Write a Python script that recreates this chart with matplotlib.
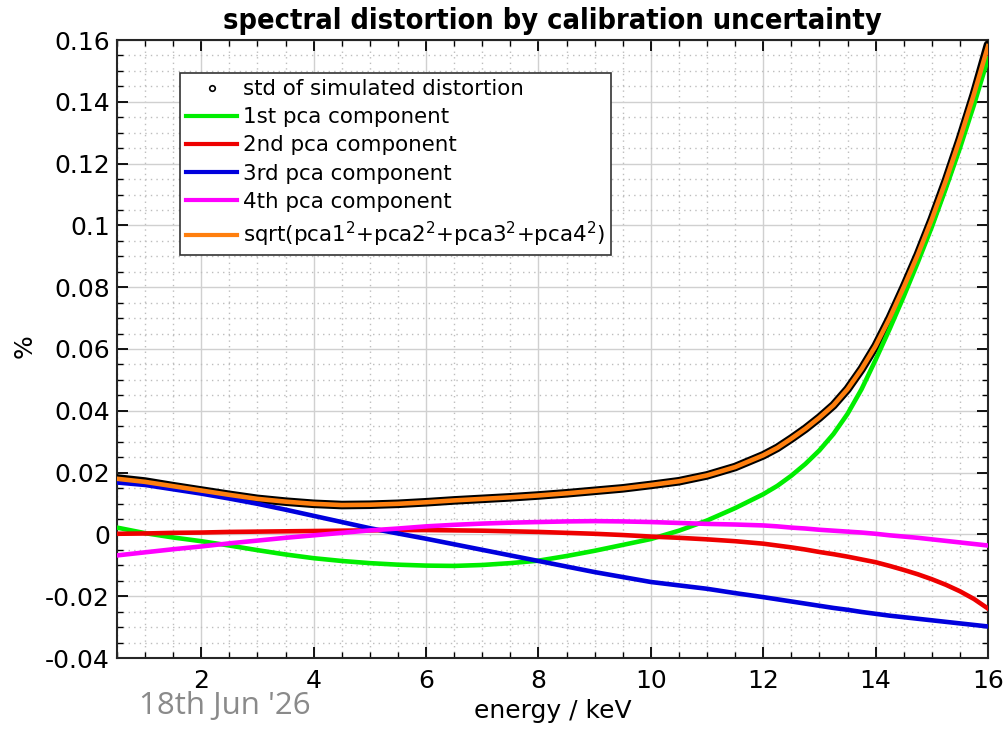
import numpy as np
import matplotlib
matplotlib.use("Agg")
import matplotlib.pyplot as plt
from matplotlib.lines import Line2D
from matplotlib.ticker import MultipleLocator

energy = [0.5, 1.0, 1.5, 2.0, 2.5, 3.0, 3.5, 4.0, 4.5, 5.0, 5.5, 6.0, 6.5, 7.0, 7.5, 8.0,
          8.5, 9.0, 9.5, 10.0, 10.5, 11.0, 11.5, 12.0, 12.25, 12.5, 12.75, 13.0, 13.25, 13.5,
          13.75, 14.0, 14.25, 14.5, 14.75, 15.0, 15.25, 15.5, 15.75, 16.0]

pca1 = [0.0022, 0.0004, -0.0010, -0.0022, -0.0036, -0.0051, -0.0065, -0.0077, -0.0086, -0.0093,
        -0.0098, -0.0101, -0.0102, -0.0099, -0.0093, -0.0085, -0.0070, -0.0053, -0.0034, -0.0015,
        0.0012, 0.0045, 0.0085, 0.0130, 0.0157, 0.0190, 0.0228, 0.0272, 0.0325, 0.0390,
        0.0470, 0.0565, 0.0665, 0.0770, 0.0880, 0.0995, 0.1120, 0.1250, 0.1390, 0.1540]

pca2 = [0.0002, 0.0003, 0.0005, 0.0006, 0.0008, 0.0009, 0.0010, 0.0011, 0.0012, 0.0013,
        0.0014, 0.0014, 0.0013, 0.0012, 0.0010, 0.0008, 0.0005, 0.0002, -0.0002, -0.0007,
        -0.0011, -0.0016, -0.0022, -0.0030, -0.0036, -0.0042, -0.0049, -0.0057, -0.0064, -0.0072,
        -0.0081, -0.0090, -0.0102, -0.0115, -0.0129, -0.0145, -0.0163, -0.0184, -0.0209, -0.0240]

pca3 = [0.0168, 0.0160, 0.0146, 0.0132, 0.0116, 0.0099, 0.0080, 0.0060, 0.0040, 0.0020,
        0.0003, -0.0014, -0.0032, -0.0050, -0.0068, -0.0086, -0.0104, -0.0122, -0.0138, -0.0154,
        -0.0165, -0.0176, -0.0190, -0.0203, -0.0210, -0.0217, -0.0224, -0.0231, -0.0238, -0.0244,
        -0.0251, -0.0257, -0.0263, -0.0268, -0.0273, -0.0278, -0.0283, -0.0288, -0.0293, -0.0298]

pca4 = [-0.0068, -0.0058, -0.0048, -0.0039, -0.0029, -0.0020, -0.0011, -0.0003, 0.0005, 0.0013,
        0.0019, 0.0026, 0.0031, 0.0035, 0.0038, 0.0040, 0.0042, 0.0043, 0.0042, 0.0040,
        0.0037, 0.0034, 0.0032, 0.0029, 0.0026, 0.0022, 0.0019, 0.0015, 0.0012, 0.0009,
        0.0006, 0.0002, -0.0003, -0.0007, -0.0011, -0.0016, -0.0021, -0.0026, -0.0031, -0.0036]

pca_rss = [0.0180, 0.0170, 0.0156, 0.0142, 0.0128, 0.0115, 0.0106, 0.0099, 0.0095, 0.0096,
           0.0099, 0.0104, 0.0110, 0.0115, 0.0120, 0.0126, 0.0133, 0.0141, 0.0149, 0.0160,
           0.0172, 0.0191, 0.0218, 0.0256, 0.0280, 0.0310, 0.0342, 0.0378, 0.0418, 0.0470,
           0.0535, 0.0610, 0.0700, 0.0800, 0.0905, 0.1020, 0.1145, 0.1280, 0.1425, 0.1580]

std_sim = [0.0181, 0.0171, 0.0156, 0.0142, 0.0128, 0.0115, 0.0106, 0.0099, 0.0095, 0.0096,
           0.0099, 0.0104, 0.0110, 0.0115, 0.0120, 0.0126, 0.0133, 0.0141, 0.0149, 0.0160,
           0.0172, 0.0191, 0.0218, 0.0256, 0.0280, 0.0310, 0.0342, 0.0378, 0.0418, 0.0470,
           0.0535, 0.0610, 0.0700, 0.0800, 0.0905, 0.1020, 0.1145, 0.1280, 0.1425, 0.1585]

labels = ["std of simulated distortion", "1st pca component", "2nd pca component",
          "3rd pca component", "4th pca component",
          r"sqrt(pca1$^2$+pca2$^2$+pca3$^2$+pca4$^2$)"]

plt.rcParams['font.family'] = ['DejaVu Sans']
plt.rcParams['mathtext.fontset'] = 'dejavusans'

fig = plt.figure(figsize=(10.04, 7.29), dpi=100)
ax = fig.add_axes([117/1004, 1 - 658/729, (988-117)/1004, (658-40)/729])

ax.set_axisbelow(True)
ax.xaxis.set_major_locator(MultipleLocator(2))
ax.xaxis.set_minor_locator(MultipleLocator(0.5))
ax.yaxis.set_major_locator(MultipleLocator(0.02))
ax.yaxis.set_minor_locator(MultipleLocator(0.005))
ax.grid(which='major', color='#d0d0d0', linestyle='-', linewidth=1.0)
ax.grid(which='minor', color='#bdbdbd', linestyle=(0, (1, 3)), linewidth=1.0)

ax.plot(energy, std_sim, color='black', lw=6.2, solid_capstyle='round',
        solid_joinstyle='round', zorder=3)
ax.plot(energy, pca1, color='#00ee00', lw=3.3, zorder=4, solid_joinstyle='round')
ax.plot(energy, pca2, color='#ee0000', lw=3.3, zorder=4, solid_joinstyle='round')
ax.plot(energy, pca3, color='#0000dd', lw=3.3, zorder=4, solid_joinstyle='round')
ax.plot(energy, pca4, color='#ff00ff', lw=3.3, zorder=4, solid_joinstyle='round')
ax.plot(energy, pca_rss, color='#ff7f0e', lw=3.3, zorder=5, solid_joinstyle='round')

ax.set_xlim(0.5, 16)
ax.set_ylim(-0.04, 0.16)

ax.set_yticks([-0.04, -0.02, 0, 0.02, 0.04, 0.06, 0.08, 0.1, 0.12, 0.14, 0.16])
ax.set_yticklabels(['-0.04', '-0.02', '0', '0.02', '0.04', '0.06', '0.08', '0.1', '0.12', '0.14', '0.16'])
ax.set_xticks([2, 4, 6, 8, 10, 12, 14, 16])
ax.set_xticklabels(['2', '4', '6', '8', '10', '12', '14', '16'])

ax.tick_params(which='both', direction='in', top=True, right=True, colors='black', labelsize=18)
ax.tick_params(which='major', length=8, width=1.3)
ax.tick_params(axis='y', which='major', pad=5)
ax.tick_params(axis='x', which='major', pad=8)
ax.tick_params(which='minor', length=4, width=1.0)
for s in ax.spines.values():
    s.set_linewidth(1.5)
    s.set_color('#262626')

ax.set_title("spectral distortion by calibration uncertainty", fontsize=20.7, fontweight='bold',
             family='DejaVu Sans', fontstretch='condensed', pad=8)
ax.set_xlabel("energy / keV", fontsize=18, labelpad=4)
fig.text(25/1004, 1 - 346/729, "%", fontsize=18, rotation=90, ha='center', va='center')

handles = [Line2D([], [], marker='o', ls='none', mfc='none', mec='black', ms=4, mew=1.2),
           Line2D([], [], color='#00ee00', lw=3),
           Line2D([], [], color='#ee0000', lw=3),
           Line2D([], [], color='#0000dd', lw=3),
           Line2D([], [], color='#ff00ff', lw=3),
           Line2D([], [], color='#ff7f0e', lw=3)]
leg = ax.legend(handles, labels, loc='upper left', bbox_to_anchor=(0.072, 0.947),
                fontsize=15.4, frameon=True, fancybox=False, edgecolor='#333333',
                handlelength=2.4, handletextpad=0.25, labelspacing=0.38, borderpad=0.3,
                borderaxespad=0.0, framealpha=1.0)
leg.get_frame().set_linewidth(1.2)

fig.text(139/1004, 1 - 706/729, "18th Jun '26", fontsize=22.5, color='#8a8a8a',
         family=['Open Sans', 'DejaVu Sans'], va='center', ha='left')

fig.savefig("out.png", dpi=100)
